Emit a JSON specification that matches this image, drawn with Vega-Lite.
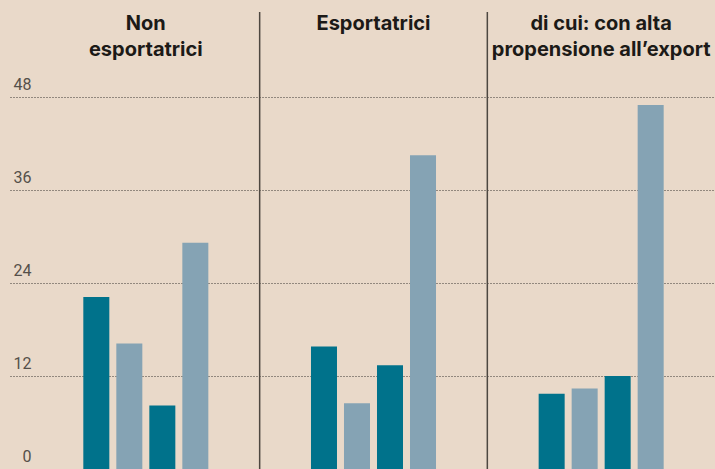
{
  "$schema": "https://vega.github.io/schema/vega-lite/v6.json",
  "width": 705,
  "height": 457,
  "autosize": {"type": "none"},
  "padding": {"left": 10, "top": 12, "right": 0, "bottom": 0},
  "background": "#e9d9c9",
  "config": {"view": {"stroke": null}, "font": "Roboto"},
  "layer": [
    {
      "data": {
        "values": [
          {"gruppo": "Non\nesportatrici", "serie": "s1", "tipo": "A", "valore": 22.2},
          {"gruppo": "Non\nesportatrici", "serie": "s2", "tipo": "B", "valore": 16.2},
          {"gruppo": "Non\nesportatrici", "serie": "s3", "tipo": "A", "valore": 8.2},
          {"gruppo": "Non\nesportatrici", "serie": "s4", "tipo": "B", "valore": 29.2},
          {"gruppo": "Esportatrici", "serie": "s1", "tipo": "A", "valore": 15.8},
          {"gruppo": "Esportatrici", "serie": "s2", "tipo": "B", "valore": 8.5},
          {"gruppo": "Esportatrici", "serie": "s3", "tipo": "A", "valore": 13.4},
          {"gruppo": "Esportatrici", "serie": "s4", "tipo": "B", "valore": 40.5},
          {"gruppo": "di cui: con alta\npropensione all’export", "serie": "s1", "tipo": "A", "valore": 9.7},
          {"gruppo": "di cui: con alta\npropensione all’export", "serie": "s2", "tipo": "B", "valore": 10.4},
          {"gruppo": "di cui: con alta\npropensione all’export", "serie": "s3", "tipo": "A", "valore": 12.0},
          {"gruppo": "di cui: con alta\npropensione all’export", "serie": "s4", "tipo": "B", "valore": 47.0}
        ]
      },
      "mark": {"type": "bar"},
      "encoding": {
        "x": {
          "field": "gruppo",
          "type": "nominal",
          "scale": {
            "domain": ["Non\nesportatrici", "Esportatrici", "di cui: con alta\npropensione all’export"],
            "paddingInner": 0,
            "paddingOuter": 0.0483,
            "align": 1
          },
          "axis": {
            "orient": "top",
            "title": null,
            "ticks": false,
            "tickSize": 0,
            "domain": false,
            "labelAngle": 0,
            "labelPadding": -1,
            "labelBaseline": "top",
            "labelLineHeight": 26,
            "labelFont": "Inter",
            "labelFontSize": 20,
            "labelFontWeight": "bold",
            "labelColor": "#1c1a17",
            "labelLimit": 0,
            "labelOverlap": false,
            "labelBound": false,
            "labelExpr": "split(datum.label, '\\n')"
          }
        },
        "xOffset": {
          "field": "serie",
          "type": "nominal",
          "scale": {"domain": ["p0", "s1", "s2", "s3", "s4", "p5"], "paddingInner": 0.212, "paddingOuter": 0.555}
        },
        "y": {
          "field": "valore",
          "type": "quantitative",
          "scale": {"domain": [0, 59], "nice": false},
          "axis": {
            "title": null,
            "values": [0, 12, 24, 36, 48],
            "ticks": false,
            "tickSize": 0,
            "domain": false,
            "grid": true,
            "gridDash": [1, 2],
            "gridColor": "#3a3632",
            "gridWidth": 1,
            "gridOpacity": {"condition": {"test": "datum.value == 0", "value": 0}, "value": 1},
            "labelAlign": "right",
            "labelPadding": -21,
            "labelBaseline": "alphabetic",
            "labelOffset": -8,
            "labelFlush": false,
            "labelFontSize": 16,
            "labelColor": "#55504a"
          }
        },
        "color": {
          "field": "tipo",
          "type": "nominal",
          "scale": {"domain": ["A", "B"], "range": ["#00728b", "#85a3b4"]},
          "legend": null
        }
      }
    },
    {
      "data": {
        "values": [
          {"gruppo": "Esportatrici"},
          {"gruppo": "di cui: con alta\npropensione all’export"}
        ]
      },
      "mark": {"type": "rule", "color": "#4d4740", "strokeWidth": 1.5},
      "encoding": {
        "x": {"field": "gruppo", "type": "nominal", "bandPosition": 0}
      }
    }
  ]
}
